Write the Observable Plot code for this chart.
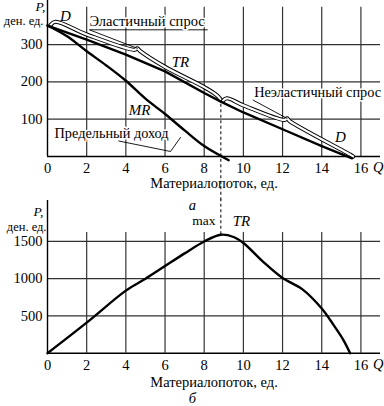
<!DOCTYPE html>
<html><head><meta charset="utf-8">
<script src="https://cdn.jsdelivr.net/npm/d3@7"></script>
<script src="https://cdn.jsdelivr.net/npm/@observablehq/plot@0.6"></script>
<style>
body{margin:0;background:#fff}
#c{position:relative;width:384px;height:406px;overflow:hidden}
#c svg{position:absolute;left:0;overflow:visible}
#c svg text{font-family:"Liberation Serif","Times New Roman",serif !important}
</style>
</head><body><div id="c"></div>
<script>
// ---- data ----
const qTicks = [0, 2, 4, 6, 8, 10, 12, 14, 16];
const priceTicks = [100, 200, 300];
const revenueTicks = [500, 1000, 1500];
const demand = [[0,351],[2,313],[4,273],[6,228],[8,170],[8.85,147],[10,118],[12,73],[14,28],[15.55,-5]];
const marginalRevenue = [[0,351],[1,322],[2,282],[3,244],[4,203],[5,155],[6,114],[7,70],[8,28],[9.25,-10]];
const totalRevenue = [[0,0],[2,410],[4,840],[5,1000],[6,1170],[7,1340],[8,1500],[8.85,1590],[9.5,1560],[10,1480],[11,1230],[12,1010],[13,860],[14,600],[14.6,380],[15.1,180],[15.45,0]];
const elasticBrace = [[0.15,352],[0.4,361],[2,327],[4.45,286],[4.58,290],[4.72,283],[6,240],[8,186],[8.65,164],[8.85,152]];
const inelasticBrace = [[8.95,149],[9.15,156],[10,137],[12.1,98],[12.23,102],[12.36,95],[15.45,5],[15.6,0]];
const elasticLeader = [[8.16,339.5],[2.14,339.5],[4.58,290]];
const inelasticLeader = [[10.5,151],[12.23,102]];
const mrLeader = [[3.64,41.5],[6.28,13.4],[6.79,50.9]];
const maxQ = 8.85;
const qMax = 17;
const xTitle = "Материалопоток, ед.";
const pUnit = "ден. ед.";

const font = "'Liberation Serif', 'Times New Roman', serif";
const gridColor = "#333";
const px = d => d[0], py = d => d[1];
const T = (data, opts) => Plot.text(data, {fontFamily: font, fill: "#000", ...opts});

function grid(yTop, yTicks) {
  return [
    Plot.ruleX(qTicks.filter(q => q > 0), {y1: 0, y2: yTop, stroke: gridColor, strokeWidth: 1.2}),
    Plot.ruleY(yTicks, {x1: 0, x2: qMax, stroke: gridColor, strokeWidth: 1.2}),
    Plot.ruleY([0], {x1: 0, x2: qMax, stroke: "#000", strokeWidth: 1.4})
  ];
}
function xLabels(extra) {
  return [
    T(qTicks, {x: d => d, y: 0, dy: 12, text: d => String(d), fontSize: 14.5}),
    T(["Q"], {x: 16.88, y: 0, dy: 11, fontStyle: "italic", fontSize: 14.5}),
    T([xTitle], {x: 8.5, y: 0, dy: extra, fontSize: 14.5})
  ];
}
const plotStyle = "font-family:'Liberation Serif',serif;font-size:14px;color:#000;background:transparent;overflow:visible";

// ---- top chart ----
const chartA = Plot.plot({
  width: 384, height: 200,
  marginLeft: 47, marginRight: 4, marginTop: 0, marginBottom: 44,
  x: {domain: [0, qMax], axis: null},
  y: {domain: [0, 418], axis: null},
  style: plotStyle,
  marks: [
    ...grid(400, priceTicks),
    Plot.ruleX([0], {y1: 0, y2: 418, stroke: "#000", strokeWidth: 1.4}),
    T(priceTicks, {x: 0, y: d => d, dx: -5, textAnchor: "end", text: d => String(d), fontSize: 14.5}),
    T(["P,"], {x: 0, y: 401, dx: -2, textAnchor: "end", fontStyle: "italic", fontSize: 13.5}),
    T([pUnit], {x: 0, y: 363, dx: -4, textAnchor: "end", fontSize: 12.5}),
    ...xLabels(27),
    Plot.ruleX([maxQ], {y1: 140, y2: -125, stroke: "#000", strokeWidth: 1, strokeDasharray: "3,2.5"}),
    Plot.line(elasticBrace, {x: px, y: py, stroke: "#000", strokeWidth: 4.2, strokeLinecap: "round", strokeLinejoin: "round", curve: "catmull-rom"}),
    Plot.line(elasticBrace, {x: px, y: py, stroke: "#fff", strokeWidth: 2.2, strokeLinecap: "round", strokeLinejoin: "round", curve: "catmull-rom"}),
    Plot.line(inelasticBrace, {x: px, y: py, stroke: "#000", strokeWidth: 4.2, strokeLinecap: "round", strokeLinejoin: "round", curve: "catmull-rom"}),
    Plot.line(inelasticBrace, {x: px, y: py, stroke: "#fff", strokeWidth: 2.2, strokeLinecap: "round", strokeLinejoin: "round", curve: "catmull-rom"}),
    Plot.line(elasticLeader, {x: px, y: py, stroke: "#000", strokeWidth: 0.9}),
    Plot.line(inelasticLeader, {x: px, y: py, stroke: "#000", strokeWidth: 0.9}),
    Plot.line(mrLeader, {x: px, y: py, stroke: "#000", strokeWidth: 0.9}),
    Plot.line(demand, {x: px, y: py, stroke: "#000", strokeWidth: 2.4}),
    Plot.line(marginalRevenue, {x: px, y: py, stroke: "#000", strokeWidth: 2.4, curve: "catmull-rom"}),
    T(["D"], {x: 0.92, y: 375, fontStyle: "italic", fontSize: 15}),
    T(["D"], {x: 14.96, y: 52, fontStyle: "italic", fontSize: 15}),
    T(["TR"], {x: 6.79, y: 252, fontStyle: "italic", fontSize: 15}),
    T(["MR"], {x: 4.7, y: 125, fontStyle: "italic", fontSize: 15}),
    T(["Эластичный спрос"], {x: 2.14, y: 362, textAnchor: "start", fontSize: 14.5, stroke: "#fff", strokeWidth: 3}),
    T(["Неэластичный спрос"], {x: 10.55, y: 171, textAnchor: "start", fontSize: 14.3, stroke: "#fff", strokeWidth: 3}),
    T(["Предельный доход"], {x: 3.27, y: 63, fontSize: 14.3, stroke: "#fff", strokeWidth: 3})
  ]
});
chartA.style.top = "0px";

// ---- bottom chart ----
const chartB = Plot.plot({
  width: 384, height: 206,
  marginLeft: 47, marginRight: 4, marginTop: 0, marginBottom: 53.3,
  x: {domain: [0, qMax], axis: null},
  y: {domain: [0, 2050], axis: null},
  style: plotStyle,
  marks: [
    ...grid(1620, revenueTicks),
    Plot.ruleX([0], {y1: 0, y2: 2050, stroke: "#000", strokeWidth: 1.4}),
    T(revenueTicks, {x: 0, y: d => d, dx: -5, textAnchor: "end", text: d => String(d), fontSize: 14.5}),
    T(["P,"], {x: 0, y: 1905, dx: -4, textAnchor: "end", fontStyle: "italic", fontSize: 13.5}),
    T([pUnit], {x: 0, y: 1700, dx: -1, textAnchor: "end", fontSize: 12.5}),
    ...xLabels(29),
    T(["б"], {x: 7.4, y: 0, dy: 45, fontStyle: "italic", fontSize: 14.5}),
    T(["а"], {x: 7.4, y: 1983, fontStyle: "italic", fontSize: 14.5}),
    Plot.ruleX([maxQ], {y1: 1590, y2: 2060, stroke: "#000", strokeWidth: 1, strokeDasharray: "3,2.5"}),
    Plot.line(totalRevenue, {x: px, y: py, stroke: "#000", strokeWidth: 2.4, curve: "catmull-rom"}),
    T(["max"], {x: 8.58, y: 1782, textAnchor: "end", fontSize: 13.5}),
    T(["TR"], {x: 9.9, y: 1769, fontStyle: "italic", fontSize: 15})
  ]
});
chartB.style.top = "200px";

const c = document.getElementById("c");
c.appendChild(chartB);
c.appendChild(chartA);
</script></body></html>
